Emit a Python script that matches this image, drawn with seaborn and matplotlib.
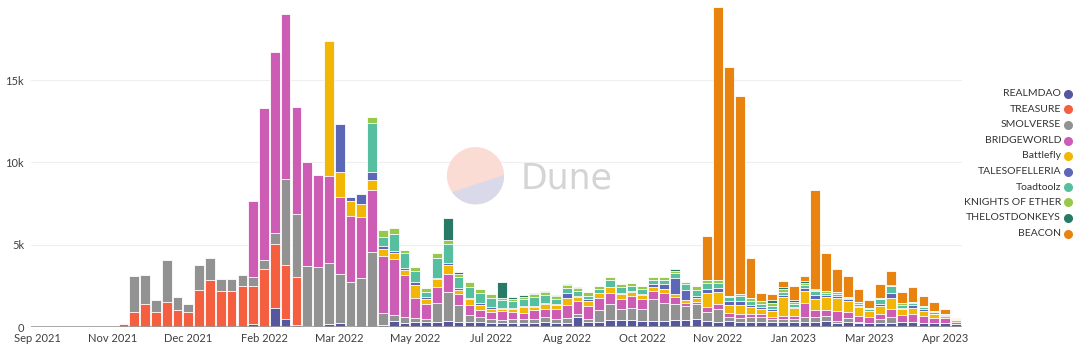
import numpy as np
import pandas as pd
import matplotlib
matplotlib.use("Agg")
import matplotlib.pyplot as plt
import seaborn as sns
from matplotlib.patches import Polygon
from matplotlib.lines import Line2D
from matplotlib.transforms import Bbox, TransformedBbox

# ---------------- data ----------------
weeks = list(pd.date_range("2021-09-13", periods=86, freq="7D").strftime("%Y-%m-%d"))

series_names = ["REALMDAO", "TREASURE", "SMOLVERSE", "BRIDGEWORLD", "Battlefly",
                "TALESOFELLERIA", "Toadtoolz", "KNIGHTS OF ETHER", "THELOSTDONKEYS", "BEACON"]
series_colors = ["#55579F", "#F4603F", "#929292", "#CC5CB4", "#F2B705",
                 "#5C67B7", "#55BFA0", "#98C84A", "#267A66", "#E8830F"]

realmdao = [0]*20 + [160, 0, 1150, 490, 120, 60, 30, 160, 220, 50, 0, 0, 120, 380, 260, 320, 300, 320, 380, 320,
                     320, 290, 260, 260, 260, 260, 260, 290, 220, 260, 590, 300, 320, 430, 430, 430, 380, 380, 380, 400,
                     430, 470, 360, 320, 350, 300, 320, 320, 300, 310, 310, 290, 300, 380, 220, 320, 260, 260, 260, 260,
                     320, 320, 260, 220, 220, 160]
treasure = [0]*8 + [200, 930, 1380, 930, 1520, 1030, 930, 2270, 2860, 2190, 2190, 2470, 2350, 3540, 3870, 3280, 2920] + [0]*61
smolverse = [0]*9 + [2150, 1780, 690, 2570, 810, 490, 1500, 1350, 710, 710, 670, 530, 510, 670, 5200, 3810,
                     3660, 3630, 3730, 3000, 2700, 2960, 4570, 710, 350, 370, 210, 170, 1160, 1770, 1020,
                     410, 300, 210, 170, 210, 210, 210, 300, 250, 310, 200, 170, 710, 970, 680, 710, 730, 1340, 1060,
                     1000, 850, 930, 560, 750, 240, 220, 270, 270, 160, 160, 160, 340, 280, 290, 160, 200, 60, 0, 200,
                     320, 0, 0, 0, 0, 0, 0]
bridgeworld = [0]*20 + [4610, 9270, 11000, 10040, 6520, 6290, 5590, 5280, 4680, 4010, 3740, 3750, 3500, 3420, 2530,
                        1210, 910, 970, 1070, 650, 610, 440, 440, 540, 460, 400, 560, 490, 610, 770, 770, 810, 710,
                        680, 610, 740, 570, 490, 610, 430, 200, 140, 300, 320, 240, 300, 200, 170, 160, 200, 200, 810,
                        440, 360, 570, 400, 360, 330, 360, 490, 420, 470, 410, 300, 300, 160]
battlefly = [0]*27 + [8190, 1520, 890, 770, 590, 390, 330, 300, 810, 340, 450, 550, 260, 340, 310, 200, 110, 150,
                      360, 170, 320, 240, 400, 240, 320, 310, 330, 270, 250, 260, 240, 240, 190, 160, 240, 860, 710,
                      500, 500, 410, 360, 350, 1140, 470, 770, 700, 770, 810, 670, 510, 380, 440, 670, 340, 350, 330,
                      240, 160, 110]
talesofelleria = [0]*28 + [2930, 230, 610, 510, 200, 140, 110, 200, 80, 100, 140, 100, 60, 100, 90, 60, 60, 50, 80,
                           80, 80, 340, 80, 80, 30, 50, 60, 80, 50, 140, 300, 940, 610, 100, 210, 240, 240, 260, 140,
                           100, 100, 140, 100, 150, 240, 140, 100, 120, 100, 0, 120, 340, 60, 200, 80, 60, 30, 10]
toadtoolz = [0]*31 + [2950, 570, 1030, 910, 650, 350, 1210, 1110, 670, 710, 640, 540, 500, 440, 400, 560, 460, 300,
                      270, 310, 220, 210, 390, 400, 280, 300, 270, 270, 320, 360, 360, 380, 340, 240, 290, 240, 200,
                      200, 200, 160, 220, 200, 140, 140, 60, 120, 140, 330, 410, 220, 140, 120, 100, 100, 30]
knights_of_ether = [0]*31 + [410, 400, 350, 200, 260, 240, 270, 270, 200, 300, 250, 250, 100, 140, 160, 160, 200, 160,
                             200, 200, 200, 180, 170, 160, 200, 200, 160, 200, 140, 140, 240, 160, 200, 100, 160, 160,
                             150, 160, 180, 140, 100, 60, 100, 100, 60, 80, 60, 80, 0, 80, 60, 80, 60, 0, 0]
thelostdonkeys = [0]*38 + [1310, 140, 0, 0, 0, 1010, 120, 100, 80, 70, 60, 40, 60, 50, 40, 0, 0, 0, 0, 0, 0, 80,
                           0, 0, 0, 0, 0, 0, 0, 0, 240, 120, 100, 100, 70, 0, 0, 0, 0, 0, 0, 60, 0, 0, 0, 0, 0, 0]
beacon = [0]*62 + [2670, 16560, 13910, 12000, 2430, 500, 360, 360, 870, 310, 6030, 2320, 1400, 1260, 810, 470, 810,
                   870, 670, 910, 620, 510, 280, 100]

tick_labels = ["Sep 2021", "Nov 2021", "Dec 2021", "Feb 2022", "Mar 2022", "May 2022", "Jul 2022",
               "Aug 2022", "Oct 2022", "Nov 2022", "Jan 2023", "Mar 2023", "Apr 2023"]
legend_labels = ["REALMDAO", "TREASURE", "SMOLVERSE", "BRIDGEWORLD", "Battlefly",
                 "TALESOFELLERIA", "Toadtoolz", "KNIGHTS OF ETHER", "THELOSTDONKEYS", "BEACON"]

series = [realmdao, treasure, smolverse, bridgeworld, battlefly, talesofelleria,
          toadtoolz, knights_of_ether, thelostdonkeys, beacon]
for s in series:
    assert len(s) == len(weeks), len(s)

df = pd.DataFrame({n: v for n, v in zip(series_names, series)})
df["week"] = weeks
cum = df[series_names].cumsum(axis=1)

# ---------------- figure ----------------
sns.set_theme(style="white")
plt.rcParams["font.family"] = ["Lato", "DejaVu Sans"]

W, H = 1080, 349
fig = plt.figure(figsize=(W / 100, H / 100), dpi=100)
ax_left, ax_right, ax_top, ax_bot = 31, 962, 0, 327
ax = fig.add_axes([ax_left / W, 1 - ax_bot / H, (ax_right - ax_left) / W, (ax_bot - ax_top) / H])

pos = list(range(len(weeks)))
for k in reversed(range(len(series_names))):
    sns.barplot(x=pos, y=cum[series_names[k]].values, color=series_colors[k], saturation=1,
                width=0.9, edgecolor="white", linewidth=0.6, ax=ax, errorbar=None, zorder=2)

ymax = 327 * 5000 / 82.3
ax.set_ylim(0, ymax)
ax.set_xlim(-0.555, 85.57)
ax.set_yticks([0, 5000, 10000, 15000])
ax.set_yticklabels(["0", "5k", "10k", "15k"])
ax.set_xticks(pos[::7])
ax.set_xticklabels(tick_labels)
ax.tick_params(axis="both", length=0, labelsize=8, labelcolor="#3F3F3F")
ax.tick_params(axis="y", pad=5)
ax.tick_params(axis="x", pad=4)
ax.set_xlabel("")
ax.set_ylabel("")
for sp in ax.spines.values():
    sp.set_visible(False)
ax.yaxis.grid(True, color="#EFEFEF", linewidth=0.8)
ax.set_axisbelow(True)
ax.axhline(0, color="#9A9A9A", linewidth=1.2, zorder=5)

# ---------------- watermark ----------------
def px(x, y):
    return (x / W, 1 - y / H)

cx, cy, r = 475.5, 175.7, 28.6
circ_pts = [px(cx + r * np.cos(t), cy - r * np.sin(t)) for t in np.linspace(0, 2 * np.pi, 200)]
fig.add_artist(Polygon(circ_pts, closed=True, transform=fig.transFigure, facecolor="#FBDCD5",
                       edgecolor="none", zorder=10))
seg = [px(cx + r * np.cos(t), cy - r * np.sin(t)) for t in np.linspace(np.radians(215), np.radians(361.5), 120)]
fig.add_artist(Polygon(seg, closed=True, transform=fig.transFigure, facecolor="#D9D9EA",
                       edgecolor="none", zorder=11))
fig.text(521 / W, 1 - 188.5 / H, "Dune", fontsize=25, color="#D4D4D4", ha="left", va="baseline",
         family="DejaVu Sans", fontweight="normal", zorder=12)

# ---------------- legend ----------------
leg_y0, leg_dy = 94.0, 15.5
clip = TransformedBbox(Bbox([[0, 0], [1061 / W, 1]]), fig.transFigure)
for k, lab in enumerate(legend_labels):
    y = leg_y0 + k * leg_dy
    fig.add_artist(Line2D([1067.7 / W], [1 - y / H], marker="o", markersize=5.5, color=series_colors[k],
                          linestyle="none", transform=fig.transFigure))
    t = fig.text(1061 / W, 1 - y / H, lab, fontsize=7.5, color="#333333", ha="right", va="center")
    r_ = fig.canvas.get_renderer()
    bb = t.get_window_extent(renderer=r_)
    if bb.x0 < 961:
        t.remove()
        t2 = fig.text(961 / W, 1 - y / H, lab, fontsize=7.5, color="#333333", ha="left", va="center")
        t2.set_clip_box(clip)
        t2.set_clip_on(True)

fig.savefig("out.png", dpi=100)
